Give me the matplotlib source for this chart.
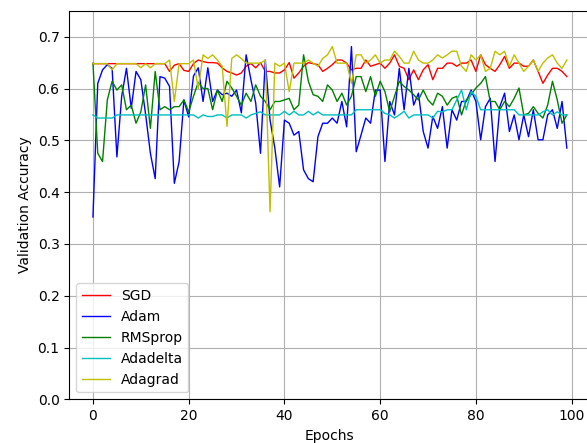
import matplotlib
matplotlib.use("Agg")
import matplotlib.pyplot as plt
import numpy as np

epochs = np.arange(100)

sgd = [0.648] * 16 + [
    0.633, 0.645, 0.648, 0.635, 0.633, 0.648, 0.655, 0.652, 0.650, 0.650,
    0.649, 0.640, 0.633, 0.630, 0.626, 0.630, 0.643, 0.648, 0.640, 0.650,
    0.633, 0.633, 0.630, 0.630, 0.636, 0.650, 0.620, 0.630, 0.643, 0.650,
    0.648, 0.646, 0.633, 0.639, 0.646, 0.655, 0.655, 0.649, 0.636, 0.639,
    0.639, 0.655, 0.643, 0.646, 0.649, 0.639, 0.649, 0.665, 0.643, 0.639,
    0.617, 0.636, 0.617, 0.636, 0.646, 0.617, 0.639, 0.639, 0.649, 0.649,
    0.643, 0.649, 0.649, 0.655, 0.633, 0.665, 0.646, 0.639, 0.633, 0.646,
    0.662, 0.639, 0.649, 0.649, 0.643, 0.643, 0.655, 0.633, 0.610, 0.626,
    0.639, 0.639, 0.633, 0.623,
]

adam = [
    0.352, 0.610, 0.636, 0.646, 0.639, 0.468, 0.585, 0.639, 0.562, 0.633,
    0.617, 0.550, 0.475, 0.426, 0.623, 0.620, 0.604, 0.417, 0.459, 0.578,
    0.545, 0.624, 0.640, 0.575, 0.640, 0.575, 0.597, 0.588, 0.591, 0.585,
    0.597, 0.553, 0.665, 0.617, 0.572, 0.475, 0.655, 0.539, 0.485, 0.410,
    0.539, 0.533, 0.510, 0.517, 0.443, 0.426, 0.420, 0.507, 0.533, 0.533,
    0.543, 0.533, 0.575, 0.526, 0.681, 0.478, 0.510, 0.543, 0.533, 0.597,
    0.597, 0.459, 0.575, 0.549, 0.639, 0.559, 0.639, 0.568, 0.591, 0.517,
    0.485, 0.546, 0.523, 0.565, 0.485, 0.559, 0.539, 0.575, 0.575, 0.597,
    0.575, 0.501, 0.565, 0.581, 0.459, 0.565, 0.591, 0.517, 0.549, 0.501,
    0.549, 0.507, 0.559, 0.501, 0.501, 0.549, 0.559, 0.523, 0.575, 0.485,
]

rmsprop = [
    0.649, 0.475, 0.459, 0.578, 0.614, 0.597, 0.607, 0.559, 0.568, 0.533,
    0.555, 0.607, 0.523, 0.633, 0.559, 0.565, 0.559, 0.565, 0.565, 0.578,
    0.555, 0.585, 0.612, 0.600, 0.600, 0.559, 0.597, 0.575, 0.614, 0.601,
    0.585, 0.568, 0.591, 0.575, 0.607, 0.585, 0.575, 0.559, 0.575, 0.575,
    0.578, 0.581, 0.559, 0.568, 0.665, 0.614, 0.588, 0.585, 0.575, 0.607,
    0.597, 0.575, 0.591, 0.568, 0.585, 0.623, 0.623, 0.594, 0.623, 0.585,
    0.614, 0.594, 0.555, 0.585, 0.614, 0.604, 0.597, 0.588, 0.578, 0.597,
    0.578, 0.568, 0.591, 0.585, 0.568, 0.581, 0.585, 0.549, 0.578, 0.588,
    0.601, 0.610, 0.623, 0.575, 0.575, 0.559, 0.575, 0.565, 0.581, 0.601,
    0.549, 0.552, 0.565, 0.552, 0.543, 0.568, 0.614, 0.578, 0.533, 0.549,
]

adadelta = [
    0.549, 0.543, 0.543, 0.543, 0.543, 0.549, 0.549, 0.549, 0.549, 0.549,
    0.549, 0.549, 0.549, 0.549, 0.549, 0.549, 0.549, 0.549, 0.549, 0.549,
    0.549, 0.549, 0.543, 0.549, 0.546, 0.546, 0.549, 0.549, 0.543, 0.549,
    0.549, 0.549, 0.543, 0.549, 0.552, 0.555, 0.549, 0.549, 0.549, 0.549,
    0.556, 0.549, 0.556, 0.549, 0.549, 0.556, 0.549, 0.555, 0.549, 0.549,
    0.549, 0.549, 0.549, 0.549, 0.549, 0.559, 0.559, 0.559, 0.559, 0.559,
    0.559, 0.552, 0.549, 0.543, 0.549, 0.556, 0.543, 0.549, 0.549, 0.549,
    0.549, 0.543, 0.556, 0.555, 0.559, 0.559, 0.578, 0.597, 0.559, 0.594,
    0.585, 0.559, 0.559, 0.559, 0.559, 0.559, 0.559, 0.559, 0.559, 0.549,
    0.549, 0.549, 0.549, 0.549, 0.555, 0.559, 0.549, 0.555, 0.549, 0.549,
]

adagrad = [
    0.648, 0.648, 0.648, 0.648, 0.636, 0.648, 0.648, 0.648, 0.648, 0.648,
    0.640, 0.648, 0.640, 0.648, 0.648, 0.648, 0.655, 0.575, 0.648, 0.648,
    0.648, 0.655, 0.600, 0.665, 0.658, 0.665, 0.655, 0.643, 0.527, 0.658,
    0.665, 0.658, 0.649, 0.649, 0.649, 0.649, 0.655, 0.362, 0.649, 0.643,
    0.649, 0.594, 0.649, 0.649, 0.649, 0.655, 0.649, 0.643, 0.658, 0.665,
    0.681, 0.649, 0.649, 0.649, 0.610, 0.665, 0.665, 0.649, 0.655, 0.665,
    0.649, 0.655, 0.655, 0.672, 0.662, 0.649, 0.649, 0.672, 0.655, 0.649,
    0.649, 0.655, 0.665, 0.659, 0.665, 0.672, 0.672, 0.643, 0.633, 0.665,
    0.655, 0.665, 0.633, 0.639, 0.672, 0.665, 0.672, 0.643, 0.665, 0.649,
    0.633, 0.643, 0.655, 0.633, 0.649, 0.659, 0.665, 0.649, 0.639, 0.655,
]

fig = plt.figure(figsize=(5.87, 4.43), dpi=100)
ax = fig.add_axes([0.118, 0.0986, 0.888, 0.877])

ax.plot(epochs, sgd, color="r", linewidth=1, label="SGD")
ax.plot(epochs, adam, color="b", linewidth=1, label="Adam")
ax.plot(epochs, rmsprop, color="g", linewidth=1, label="RMSprop")
ax.plot(epochs, adadelta, color="c", linewidth=1, label="Adadelta")
ax.plot(epochs, adagrad, color="y", linewidth=1, label="Adagrad")

ax.set_ylim(0, 0.75)
ax.set_yticks(np.arange(0, 0.71, 0.1))
ax.set_xlabel("Epochs")
ax.set_ylabel("Validation Accuracy")
ax.legend(loc="lower left")
ax.grid(True)

fig.savefig("out.png", dpi=100)
